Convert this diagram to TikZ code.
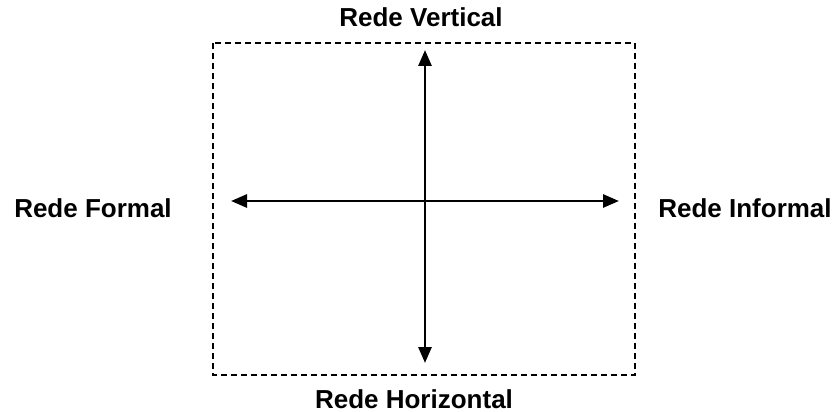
\documentclass[tikz,border=0pt]{standalone}
\usepackage{fontspec}
\setmainfont{Liberation Sans}
\usetikzlibrary{arrows.meta}
\begin{document}
\begin{tikzpicture}[x=1pt,y=-1pt,
  lbl/.style={font=\bfseries\fontsize{26}{29}\selectfont, inner sep=0pt, anchor=base},
  frame/.style={draw, line width=1.5pt, dash pattern=on 6pt off 4pt},
  axis/.style={line width=2.8pt, {Triangle[length=16pt,width=13pt]}-{Triangle[length=16pt,width=13pt]}}]
\useasboundingbox (0,0) rectangle (833,412);
\draw[frame] (213,43) rectangle (635,375);
\coordinate (T) at (425,50);
\coordinate (B) at (425,363);
\coordinate (L) at (231,201);
\coordinate (R) at (619,201);
\draw[axis] (T) -- (B);
\draw[axis] (L) -- (R);
\node[lbl] (v) at (421,27) {Rede Vertical};
\node[lbl] (h) at (414,408) {Rede Horizontal};
\node[lbl] (f) at (93,217) {Rede Formal};
\node[lbl] (i) at (745,217) {Rede Informal};
\end{tikzpicture}
\end{document}
